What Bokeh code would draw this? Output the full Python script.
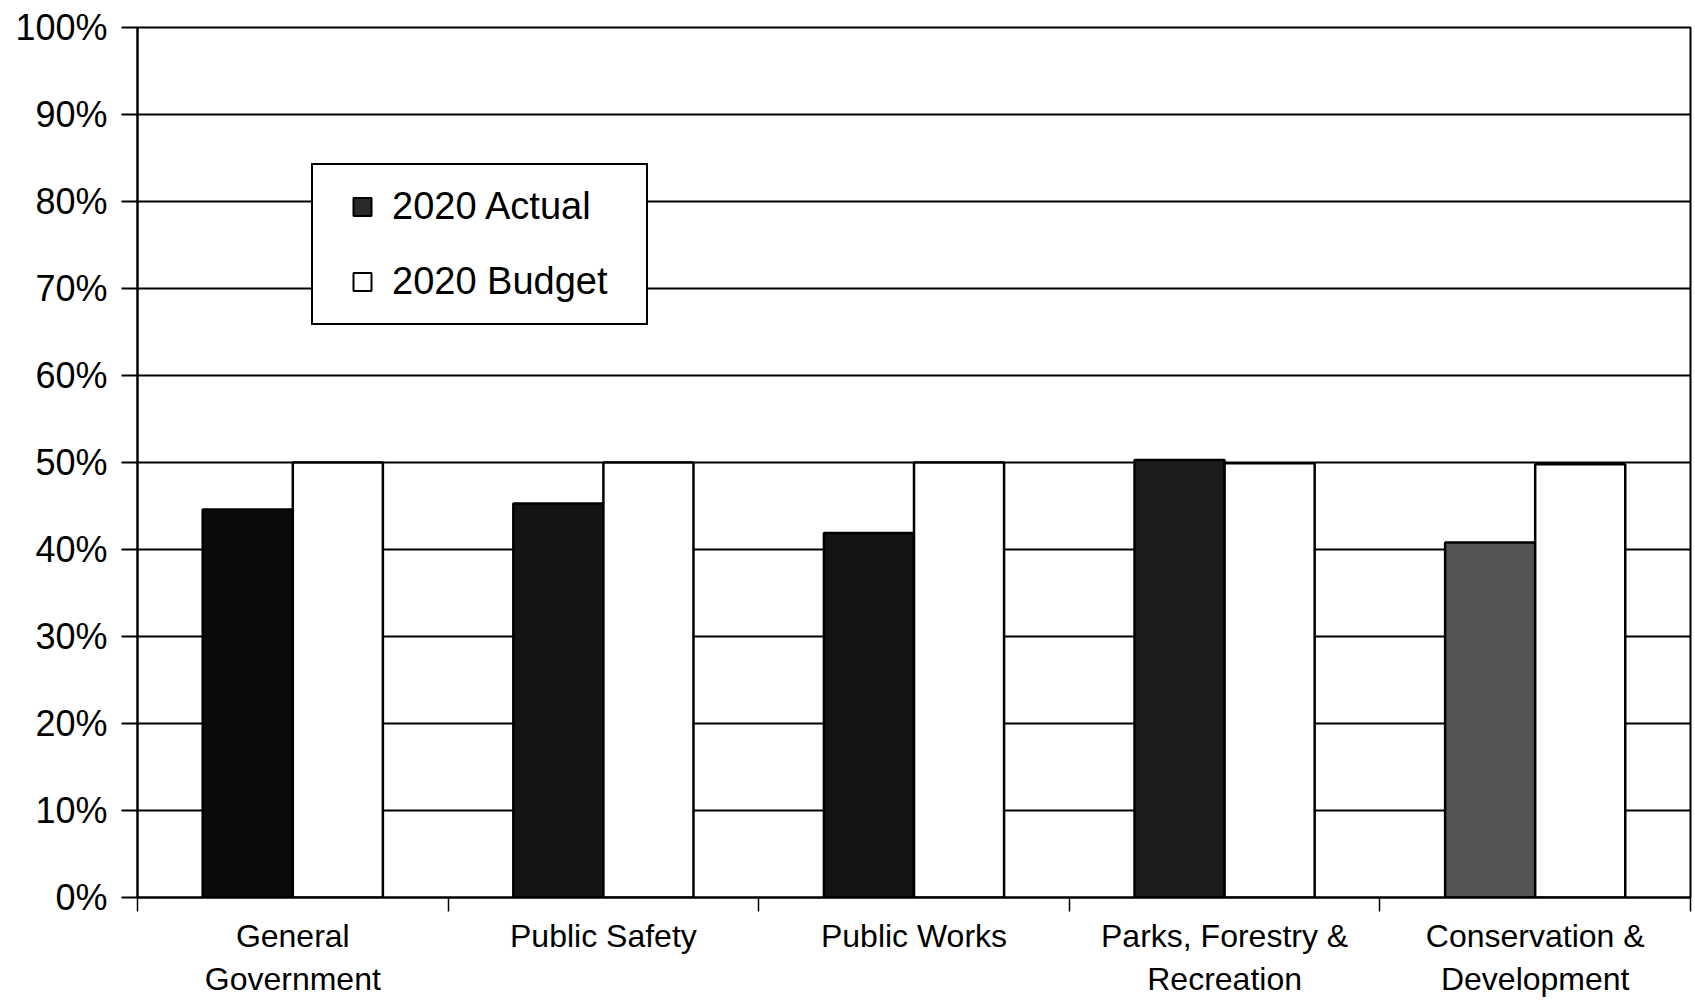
from bokeh.plotting import figure
from bokeh.models import (ColumnDataSource, Range1d, FixedTicker, PrintfTickFormatter,
                          Legend, LegendItem)
from bokeh.embed import file_html
from bokeh.resources import INLINE

# ---- data ----
categories = ["General\nGovernment", "Public Safety", "Public Works",
              "Parks, Forestry &\nRecreation", "Conservation &\nDevelopment"]
actual_2020 = [44.6, 45.3, 41.9, 50.3, 40.8]
budget_2020 = [50.0, 50.0, 50.0, 49.9, 49.8]
y_ticks = [0, 10, 20, 30, 40, 50, 60, 70, 80, 90, 100]

# ---- styling ----
actual_colors = ["#0b0b0b", "#141414", "#141414", "#1c1c1c", "#555555"]
FONT = "Liberation Sans"
bar_w = 0.29
off = 0.145

idx = list(range(len(categories)))
centers = [i + 0.5 for i in idx]
src = ColumnDataSource(dict(
    xa=[c - off for c in centers],
    xb=[c + off for c in centers],
    actual=actual_2020,
    budget=budget_2020,
    color=actual_colors,
))

p = figure(frame_width=1553, frame_height=870, output_backend="svg", toolbar_location=None,
           x_range=Range1d(0, len(categories)), y_range=Range1d(0, 100),
           min_border_left=137, min_border_right=2, min_border_top=27,
           min_border_bottom=60)
p.background_fill_color = "white"
p.border_fill_color = "white"
p.outline_line_color = "black"
p.outline_line_width = 2

p.vbar(x="xa", top="actual", width=bar_w, bottom=0, source=src,
       fill_color="color", line_color="black", line_width=2.5)
p.vbar(x="xb", top="budget", width=bar_w, bottom=0, source=src,
       fill_color="white", line_color="black", line_width=2.5)

# axes
p.xgrid.visible = False
p.ygrid.grid_line_color = "black"
p.ygrid.grid_line_width = 2
p.ygrid.ticker = FixedTicker(ticks=y_ticks)

p.yaxis.ticker = FixedTicker(ticks=y_ticks)
p.yaxis.formatter = PrintfTickFormatter(format="%d%%")
p.yaxis.major_label_text_font = FONT
p.yaxis.major_label_text_font_size = "36px"
p.yaxis.major_label_text_color = "black"
p.yaxis.major_tick_out = 16
p.yaxis.major_tick_in = 0
p.yaxis.minor_tick_line_color = None
p.yaxis.major_label_standoff = 14
p.yaxis.axis_line_width = 2
p.yaxis.major_tick_line_width = 2
p.yaxis.axis_line_color = "black"
p.yaxis.major_tick_line_color = "black"

p.xaxis.ticker = FixedTicker(ticks=centers, minor_ticks=[0] + [i + 1 for i in idx])
p.xaxis.major_label_overrides = {c: lab for c, lab in zip(centers, categories)}
p.xaxis.major_label_text_font = FONT
p.xaxis.major_label_text_font_size = "32px"
p.xaxis.major_label_text_color = "black"
p.xaxis.major_tick_out = 0
p.xaxis.major_tick_in = 0
p.xaxis.minor_tick_out = 14
p.xaxis.minor_tick_in = 0
p.xaxis.minor_tick_line_color = "black"
p.xaxis.minor_tick_line_width = 1.5
p.xaxis.major_label_standoff = 6
p.xaxis.axis_line_width = 2
p.xaxis.axis_line_color = "black"

# legend (hidden square markers used only as legend swatches)
nan = float("nan")
ra = p.scatter(x=[nan], y=[nan], marker="square", fill_color="#2a2a2a",
               line_color="black", line_width=2)
rb = p.scatter(x=[nan], y=[nan], marker="square", fill_color="white",
               line_color="black", line_width=2)
legend = Legend(items=[LegendItem(label="2020 Actual", renderers=[ra]),
                       LegendItem(label="2020 Budget", renderers=[rb])],
                location=(174, 572), padding=19, spacing=30,
                label_height=45, glyph_height=45, glyph_width=60,
                label_standoff=0, label_width=235,
                label_text_font=FONT, label_text_font_size="38px",
                label_text_color="black",
                border_line_color="black", border_line_width=2,
                border_line_alpha=1.0,
                background_fill_color="white", background_fill_alpha=1.0)
p.add_layout(legend)

open("out.html", "w").write(file_html(p, INLINE))
